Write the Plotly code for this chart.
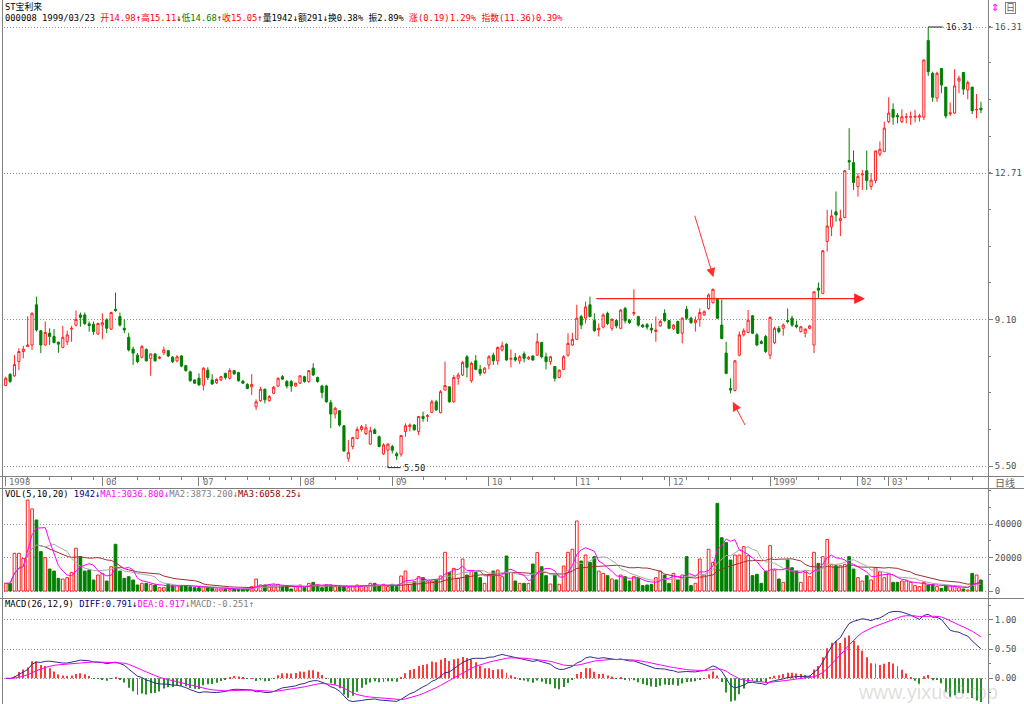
import plotly.graph_objects as go
import pandas as pd

# ---------------- data ----------------
opens = [7.48, 7.76, 7.72, 8.07, 8.32, 8.44, 8.48, 9.47, 8.83, 8.48,
         8.77, 8.69, 8.55, 8.42, 8.56, 8.87, 8.97, 9.22, 9.22, 9.00,
         8.99, 8.75, 8.97, 9.10, 8.87, 9.36, 9.18, 8.89, 8.67, 8.38,
         8.23, 8.18, 8.37, 8.15, 8.26, 8.15, 8.29, 8.34, 8.18, 8.09,
         8.21, 7.97, 7.82, 7.62, 7.66, 7.49, 7.86, 7.62, 7.55, 7.62,
         7.78, 7.66, 7.85, 7.80, 7.59, 7.51, 7.45, 6.96, 7.11, 7.39,
         7.11, 7.29, 7.47, 7.70, 7.58, 7.58, 7.47, 7.54, 7.70, 7.58,
         7.91, 7.68, 7.47, 7.47, 7.06, 6.78, 6.86, 6.49, 5.69, 5.98,
         6.18, 6.40, 6.30, 6.04, 6.39, 6.22, 5.80, 5.89, 5.98, 5.80,
         5.79, 6.35, 6.47, 6.51, 6.35, 6.72, 6.72, 6.82, 7.08, 6.81,
         7.37, 7.45, 7.08, 7.66, 7.74, 8.19, 7.60, 8.09, 7.88, 7.80,
         7.99, 8.23, 8.09, 8.36, 8.50, 8.13, 8.17, 8.09, 8.26, 8.14,
         8.21, 8.23, 8.54, 8.19, 8.07, 7.95, 7.68, 7.88, 8.23, 8.48,
         8.62, 9.18, 9.14, 9.47, 9.08, 8.85, 8.92, 9.26, 8.89, 9.08,
         8.89, 9.38, 9.09, 9.25, 9.18, 8.97, 8.98, 8.89, 8.81, 8.95,
         9.26, 9.08, 8.88, 9.06, 8.77, 9.36, 9.14, 9.03, 9.11, 9.22,
         9.38, 9.52, 9.60, 8.97, 8.28, 7.41, 7.36, 8.23, 8.73, 8.79,
         9.20, 8.73, 8.56, 8.69, 8.23, 8.54, 8.89, 8.89, 9.08, 9.14,
         8.97, 8.81, 8.77, 8.89, 8.48, 9.88, 9.75, 11.03, 11.39, 11.76,
         11.54, 11.62, 13.02, 12.97, 12.38, 12.67, 12.77, 12.38, 12.53, 13.18,
         13.24, 13.98, 14.28, 14.13, 13.98, 14.09, 14.09, 14.09, 14.09, 14.09,
         15.98, 15.17, 14.56, 15.29, 14.83, 14.17, 14.19, 14.98, 15.19, 14.76,
         14.83, 14.27, 14.31]
highs = [7.70, 7.78, 8.23, 8.40, 8.46, 9.19, 9.28, 9.67, 8.85, 9.06,
         8.89, 8.87, 8.56, 8.95, 8.83, 8.95, 9.33, 9.28, 9.28, 9.06,
         9.06, 9.03, 9.26, 9.14, 9.30, 9.77, 9.28, 9.11, 8.78, 8.44,
         8.28, 8.48, 8.40, 8.27, 8.28, 8.21, 8.44, 8.36, 8.21, 8.23,
         8.23, 7.99, 7.85, 7.63, 7.78, 7.93, 7.93, 7.76, 7.66, 7.72,
         7.80, 7.91, 7.86, 7.82, 7.62, 7.54, 7.76, 7.14, 7.45, 7.41,
         7.25, 7.47, 7.68, 7.74, 7.62, 7.62, 7.55, 7.74, 7.72, 7.86,
         8.03, 7.70, 7.50, 7.50, 7.13, 6.96, 6.88, 6.51, 6.14, 6.22,
         6.47, 6.51, 6.53, 6.47, 6.43, 6.25, 6.06, 6.06, 6.02, 5.85,
         6.26, 6.55, 6.55, 6.53, 6.73, 6.84, 6.78, 7.13, 7.13, 7.37,
         8.07, 7.46, 7.74, 7.80, 8.09, 8.23, 8.07, 8.23, 7.99, 7.93,
         8.23, 8.29, 8.44, 8.56, 8.52, 8.37, 8.28, 8.23, 8.32, 8.21,
         8.23, 8.77, 8.56, 8.29, 8.21, 7.96, 7.88, 8.23, 8.77, 8.78,
         9.47, 9.22, 9.55, 9.67, 9.26, 9.01, 9.26, 9.30, 9.14, 9.11,
         9.36, 9.42, 9.12, 9.85, 9.20, 9.00, 9.02, 9.01, 9.18, 9.10,
         9.36, 9.10, 9.00, 9.08, 9.16, 9.44, 9.18, 9.18, 9.38, 9.33,
         9.75, 9.87, 9.62, 9.60, 8.56, 7.66, 8.11, 8.81, 8.89, 9.34,
         9.22, 8.77, 8.60, 8.73, 9.18, 8.93, 8.95, 9.01, 9.38, 9.20,
         9.08, 8.95, 8.89, 8.97, 9.81, 10.02, 10.82, 11.81, 11.81, 12.26,
         11.81, 12.79, 13.82, 13.27, 12.71, 12.79, 13.27, 12.71, 13.26, 13.49,
         13.98, 14.58, 14.43, 14.19, 14.28, 14.19, 14.23, 14.27, 14.17, 15.50,
         16.31, 15.21, 15.21, 15.29, 14.83, 14.45, 15.27, 15.11, 15.19, 14.99,
         14.83, 14.66, 14.47]
lows = [7.47, 7.55, 7.70, 7.86, 8.15, 8.44, 8.36, 8.81, 8.28, 8.46,
        8.48, 8.52, 8.29, 8.40, 8.48, 8.56, 8.93, 8.93, 8.97, 8.81,
        8.73, 8.73, 8.62, 8.77, 8.85, 9.30, 8.93, 8.77, 8.32, 7.99,
        8.03, 8.15, 8.07, 7.72, 8.07, 8.13, 8.23, 8.18, 8.03, 8.05,
        7.93, 7.82, 7.58, 7.52, 7.47, 7.36, 7.62, 7.50, 7.52, 7.59,
        7.63, 7.63, 7.74, 7.58, 7.52, 7.39, 7.25, 6.88, 7.08, 7.04,
        7.08, 7.27, 7.44, 7.62, 7.41, 7.33, 7.45, 7.52, 7.55, 7.55,
        7.72, 7.55, 7.17, 7.06, 6.43, 6.67, 6.47, 5.85, 5.61, 5.91,
        6.16, 6.35, 6.26, 6.02, 6.29, 5.96, 5.77, 5.50, 5.81, 5.65,
        5.73, 6.22, 6.35, 6.37, 6.26, 6.59, 6.59, 6.80, 6.86, 6.80,
        7.37, 7.06, 7.06, 7.50, 7.72, 7.68, 7.55, 7.86, 7.72, 7.77,
        7.88, 7.99, 7.99, 8.32, 8.09, 7.93, 8.07, 8.01, 8.05, 8.11,
        8.09, 8.21, 8.15, 7.88, 7.99, 7.58, 7.66, 7.86, 8.19, 8.46,
        8.60, 8.87, 9.01, 9.16, 8.81, 8.69, 8.89, 8.97, 8.83, 8.89,
        8.87, 9.01, 9.00, 9.20, 8.93, 8.90, 8.86, 8.77, 8.56, 8.93,
        9.05, 8.87, 8.85, 8.75, 8.52, 9.10, 9.00, 8.81, 8.93, 9.20,
        9.35, 9.50, 9.12, 8.62, 7.76, 7.29, 7.34, 8.20, 8.69, 8.77,
        8.75, 8.45, 8.50, 8.28, 8.13, 8.50, 8.77, 8.71, 9.01, 8.93,
        8.89, 8.79, 8.67, 8.87, 8.28, 9.63, 9.73, 10.78, 11.16, 11.52,
        11.16, 11.60, 12.79, 12.30, 12.13, 12.30, 12.30, 12.30, 12.46, 13.12,
        13.24, 13.94, 13.90, 13.94, 13.94, 13.94, 13.90, 13.96, 13.98, 14.02,
        15.11, 14.47, 14.47, 14.68, 14.06, 14.12, 14.17, 14.68, 14.64, 14.53,
        14.17, 14.06, 14.19]
closes = [7.66, 7.58, 8.00, 8.32, 8.38, 8.48, 9.26, 8.85, 8.48, 8.79,
          8.69, 8.54, 8.50, 8.67, 8.73, 8.89, 9.11, 9.16, 9.01, 8.96,
          8.81, 9.01, 9.03, 8.89, 9.28, 9.33, 8.97, 8.85, 8.36, 8.28,
          8.07, 8.44, 8.09, 8.26, 8.09, 8.18, 8.36, 8.21, 8.07, 8.19,
          7.96, 7.85, 7.60, 7.54, 7.50, 7.91, 7.68, 7.52, 7.63, 7.70,
          7.68, 7.85, 7.77, 7.60, 7.54, 7.41, 7.51, 7.08, 7.39, 7.13,
          7.21, 7.44, 7.66, 7.64, 7.47, 7.47, 7.54, 7.72, 7.58, 7.85,
          7.74, 7.58, 7.31, 7.08, 6.78, 6.92, 6.51, 5.87, 5.83, 6.20,
          6.40, 6.47, 6.44, 6.37, 6.30, 5.98, 6.02, 6.04, 5.89, 5.75,
          6.25, 6.49, 6.51, 6.39, 6.72, 6.67, 6.74, 7.08, 6.88, 7.33,
          7.48, 7.08, 7.68, 7.74, 8.05, 7.93, 8.03, 7.88, 7.78, 7.91,
          8.19, 8.09, 8.42, 8.46, 8.11, 8.15, 8.11, 8.19, 8.15, 8.17,
          8.11, 8.56, 8.19, 8.07, 8.19, 7.66, 7.86, 8.19, 8.52, 8.62,
          9.14, 8.97, 9.42, 9.18, 8.83, 8.89, 9.22, 9.01, 9.11, 8.95,
          9.34, 9.08, 9.03, 9.28, 8.97, 8.93, 8.92, 8.85, 8.85, 9.06,
          9.08, 8.89, 8.97, 8.77, 9.14, 9.14, 9.03, 9.09, 9.28, 9.30,
          9.71, 9.85, 9.14, 8.64, 7.78, 7.37, 8.09, 8.73, 8.83, 9.09,
          8.77, 8.48, 8.52, 8.32, 9.16, 8.89, 8.81, 8.97, 9.06, 8.97,
          8.93, 8.93, 8.87, 8.95, 9.79, 9.83, 10.80, 11.41, 11.66, 11.68,
          11.60, 12.77, 12.99, 12.48, 12.63, 12.69, 12.53, 12.54, 13.26, 13.30,
          13.82, 14.19, 14.09, 14.10, 14.10, 14.10, 14.10, 14.11, 14.12, 15.50,
          15.21, 14.58, 15.17, 14.88, 14.12, 14.20, 14.86, 15.05, 14.78, 14.94,
          14.25, 14.28, 14.27]
volumes = [4580, 4580, 22500, 22500, 19500, 54300, 49000, 42400, 23500, 19900,
           13100, 11900, 7560, 7160, 7960, 11100, 25500, 20500, 11900, 12500,
           6570, 9550, 10500, 5970, 14500, 27900, 11900, 7560, 8560, 6570,
           3580, 4580, 4580, 3980, 3580, 1990, 1990, 3980, 3180, 3180,
           3180, 3180, 2590, 1990, 1990, 2590, 1990, 1590, 1190, 1190,
           1190, 1000, 1190, 1000, 1000, 1000, 2590, 7160, 3580, 3580,
           3580, 3580, 3980, 2590, 2590, 1190, 2590, 3580, 1990, 4580,
           5170, 3580, 1990, 3580, 3580, 2590, 2590, 2590, 1990, 2590,
           3580, 3180, 2590, 4580, 4580, 3180, 3980, 2590, 3980, 2590,
           8960, 11900, 3980, 5570, 8560, 7960, 5970, 5970, 6570, 8960,
           23100, 11100, 13500, 7560, 19100, 9550, 11900, 11100, 7960, 4580,
           9550, 11900, 12500, 8560, 20900, 11100, 5970, 4580, 4580, 4580,
           16100, 22900, 14500, 9150, 4180, 9550, 3980, 14900, 23100, 24900,
           41800, 17900, 21500, 17100, 20500, 11900, 10500, 9150, 7160, 6570,
           9550, 8560, 5970, 8560, 7560, 3180, 3580, 3980, 7960, 11900,
           9550, 4580, 10500, 6570, 9550, 20500, 3180, 4580, 19100, 9550,
           24900, 17100, 52300, 31800, 28900, 18500, 21500, 21500, 26500, 21100,
           9150, 9950, 4580, 11900, 27100, 12500, 7160, 5170, 18500, 13900,
           11900, 5170, 11100, 8560, 23100, 16500, 20500, 30800, 15900, 15100,
           15100, 15900, 20500, 13100, 7960, 5970, 9150, 6570, 13900, 11500,
           7960, 10500, 5170, 5170, 5970, 5970, 5170, 3180, 2590, 5170,
           3580, 3980, 2590, 1590, 3180, 3180, 3180, 1942, 1190, 600,
           10500, 9550, 6570]

month_idx = [0, 22, 44, 67, 88, 110, 130, 151, 174, 194, 201]
month_lbl = ["1998", "06", "07", "08", "09", "10", "11", "12", "1999", "02", "03"]
price_ticks = [5.50, 9.10, 12.71, 16.31]
vol_ticks = [0, 20000, 40000]
macd_ticks = [0.0, 0.5, 1.0]

# hand-drawn red marks (candle index, price)
resist_line = [134.1, 195.6, 9.62]            # x start, x end (arrow head), price
arrow_down = [156.75, 11.70, 161.1, 10.15]    # tail x, tail y, head x, head y
arrow_up = [168.5, 6.47, 165.5, 7.08]

# ---------------- layout constants ----------------
W, H = 1024, 704
X_FIRST, STEP = 5.7, 4.393          # pixel of first candle, spacing
PLOT_L, PLOT_R = 4, 988
MONO = "DejaVu Sans Mono, Noto Sans CJK SC, monospace"


def px(x):
    return x / W


def py(y):
    return 1 - y / H


n = len(closes)
idx = list(range(n))
xr = [(PLOT_L - X_FIRST) / STEP, (PLOT_R - X_FIRST) / STEP]

c = pd.Series(closes)
diff = c.ewm(span=12, adjust=False).mean() - c.ewm(span=26, adjust=False).mean()
dea = diff.ewm(span=9, adjust=False).mean()
hist = 2 * (diff - dea)

v = pd.Series(volumes, dtype=float)
ma5 = v.rolling(5, min_periods=1).mean()
ma10 = v.rolling(10, min_periods=1).mean()
ma20 = v.rolling(20, min_periods=1).mean()

up = [cl >= op for op, cl in zip(opens, closes)]
RED, GREEN = "#ff2020", "#008000"

fig = go.Figure()
fig.add_trace(go.Candlestick(
    x=idx, open=opens, high=highs, low=lows, close=closes,
    increasing=dict(line=dict(color=RED, width=1), fillcolor="#ffffff"),
    decreasing=dict(line=dict(color=GREEN, width=1), fillcolor=GREEN),
    whiskerwidth=0, xaxis="x", yaxis="y", showlegend=False, hoverinfo="skip"))

fig.add_trace(go.Bar(
    x=idx, y=volumes, width=0.62, xaxis="x2", yaxis="y2",
    marker=dict(color=["#ffffff" if u else GREEN for u in up],
                line=dict(color=[RED if u else GREEN for u in up], width=1)),
    showlegend=False, hoverinfo="skip"))
for s, col in [(ma20, "#a03030"), (ma10, "#a8a8a8"), (ma5, "#ff00ff")]:
    fig.add_trace(go.Scatter(x=idx, y=s, mode="lines", line=dict(color=col, width=1),
                             xaxis="x2", yaxis="y2", showlegend=False, hoverinfo="skip"))

fig.add_trace(go.Bar(
    x=idx, y=hist, width=0.22, xaxis="x3", yaxis="y3",
    marker=dict(color=["#ff3838" if h >= 0 else "#259025" for h in hist], line=dict(width=0)),
    showlegend=False, hoverinfo="skip"))
fig.add_trace(go.Scatter(x=idx, y=diff, mode="lines", line=dict(color="#2c2c90", width=1),
                         xaxis="x3", yaxis="y3", showlegend=False, hoverinfo="skip"))
fig.add_trace(go.Scatter(x=idx, y=dea, mode="lines", line=dict(color="#ff00ff", width=1),
                         xaxis="x3", yaxis="y3", showlegend=False, hoverinfo="skip"))

dom_x = [px(PLOT_L), px(PLOT_R)]
yfont = dict(family=MONO, size=9, color="#505050")
common_y = dict(side="right", ticks="outside", ticklen=4, tickcolor="#808080",
                showgrid=True, gridcolor="#909090", griddash="1px,2px", gridwidth=1,
                zeroline=False, showline=False, tickfont=yfont, fixedrange=True)

fig.update_layout(
    width=W, height=H, margin=dict(l=0, r=0, t=0, b=0),
    paper_bgcolor="white", plot_bgcolor="white", showlegend=False,
    xaxis=dict(domain=dom_x, range=xr, anchor="y", tickmode="array", tickvals=month_idx,
               ticks="outside", ticklen=9, tickcolor="#808080", showticklabels=False,
               showgrid=False, zeroline=False, showline=False,
               rangeslider=dict(visible=False),
               minor=dict(ticks="outside", ticklen=3, tick0=0, dtick=5, tickcolor="#808080")),
    xaxis2=dict(domain=dom_x, range=xr, anchor="y2", matches="x", showticklabels=False,
                ticks="", showgrid=False, zeroline=False, showline=False),
    xaxis3=dict(domain=dom_x, range=xr, anchor="y3", matches="x", showticklabels=False,
                ticks="", showgrid=False, zeroline=False, showline=False),
    yaxis=dict(common_y, domain=[py(476), 1], range=[5.254, 16.975], anchor="x",
               tickmode="array", tickvals=price_ticks,
               ticktext=["%.2f" % t for t in price_ticks],
               minor=dict(ticks="outside", ticklen=2, tickcolor="#808080",
                          tickvals=[5.5 + k * 0.9025 for k in range(13)])),
    yaxis2=dict(common_y, domain=[py(598), py(488)], range=[-4179, 61490], anchor="x2",
                tickmode="array", tickvals=vol_ticks, ticktext=[str(t) for t in vol_ticks],
                minor=dict(ticks="outside", ticklen=2, tickcolor="#808080", dtick=10000)),
    yaxis3=dict(common_y, domain=[0, py(598)], range=[-0.441, 1.377], anchor="x3",
                tickmode="array", tickvals=macd_ticks,
                ticktext=["%.2f" % t for t in macd_ticks],
                minor=dict(ticks="outside", ticklen=2, tickcolor="#808080", dtick=0.25)),
)

# panel borders
bl = dict(color="#808080", width=1)
shapes = [
    dict(type="line", xref="paper", yref="paper", x0=0, x1=1, y0=py(476.5), y1=py(476.5), line=bl),
    dict(type="line", xref="paper", yref="paper", x0=0, x1=1, y0=py(488.5), y1=py(488.5), line=bl),
    dict(type="line", xref="paper", yref="paper", x0=0, x1=1, y0=py(598.5), y1=py(598.5), line=bl),
    dict(type="line", xref="paper", yref="paper", x0=px(988.5), x1=px(988.5), y0=0, y1=1, line=bl),
    dict(type="line", xref="paper", yref="paper", x0=px(2.5), x1=px(2.5), y0=0, y1=1, line=bl),
]
# max / min markers
imax = max(range(n), key=lambda i: highs[i])
imin = min(range(n), key=lambda i: lows[i])
shapes.append(dict(type="line", xref="x", yref="y", x0=imax, x1=imax + 3.3,
                   y0=highs[imax], y1=highs[imax], line=dict(color="#202020", width=1)))
shapes.append(dict(type="line", xref="x", yref="y", x0=imin, x1=imin + 2.9,
                   y0=lows[imin] - 0.04, y1=lows[imin] - 0.04, line=dict(color="#202020", width=1)))
shapes.append(dict(type="line", xref="x", yref="y", x0=imin, x1=imin,
                   y0=lows[imin], y1=lows[imin] - 0.04, line=dict(color="#202020", width=1)))
fig.update_layout(shapes=shapes)

ann = []


def sp(t, col):
    return '<span style="color:%s">%s</span>' % (col, t)


hdr2 = (sp("000008 1999/03/23 ", "#000000") + sp("开14.98", "#ff0000") + sp("↑", "#c00000")
        + sp("高15.11", "#ff0000") + sp("↓", "#000000") + sp("低14.68", "#008000")
        + sp("↑", "#c00000") + sp("收15.05", "#ff0000") + sp("↑", "#c00000")
        + sp("量1942", "#000000") + sp("↓", "#000000") + sp("额291", "#000000")
        + sp("↓", "#000000") + sp("换0.38% 振2.89% ", "#000000")
        + sp("涨(0.19)1.29% 指数(11.36)0.39%", "#ff0000"))
vol_t = (sp("VOL(5,10,20) ", "#000000") + sp("%d↓" % volumes[217], "#000080")
         + sp("MA1:3036.800↓", "#ff00ff") + sp("MA2:3873.200↓", "#808080")
         + sp("MA3:6058.25↓", "#8b0000"))
macd_t = (sp("MACD(26,12,9) ", "#000000") + sp("DIFF:0.791↓", "#000080")
          + sp("DEA:0.917↓", "#ff00ff") + sp("MACD:-0.251↑", "#808080"))

for txt, yy in [("ST宝利来", 6), (hdr2, 18), (vol_t, 494), (macd_t, 604)]:
    ann.append(dict(text=txt, xref="paper", yref="paper", x=px(3), y=py(yy),
                    xanchor="left", yanchor="middle", showarrow=False,
                    font=dict(family=MONO, size=8.8, color="#000000")))

for m, lab in zip(month_idx, month_lbl):
    ann.append(dict(text=lab, xref="x", yref="paper", x=m + 0.35, y=py(482),
                    xanchor="left", yanchor="middle", showarrow=False,
                    font=dict(family=MONO, size=8.8, color="#707070")))

ann.append(dict(text="日线", xref="paper", yref="paper", x=px(1005), y=py(482.5),
                xanchor="center", yanchor="middle", showarrow=False,
                font=dict(family=MONO, size=10, color="#606060")))
ann.append(dict(text="⇕", xref="paper", yref="paper", x=px(995), y=py(8),
                xanchor="center", yanchor="middle", showarrow=False,
                font=dict(family="DejaVu Sans", size=10, color="#ff00ff")))
ann.append(dict(text="日", xref="paper", yref="paper", x=px(1010), y=py(8),
                xanchor="center", yanchor="middle", showarrow=False, bordercolor="#808080",
                borderwidth=1, borderpad=0,
                font=dict(family=MONO, size=9, color="#606060")))
ann.append(dict(text="%.2f" % highs[imax], xref="x", yref="y", x=imax + 3.5, y=highs[imax],
                xanchor="left", yanchor="middle", showarrow=False,
                font=dict(family=MONO, size=8.8, color="#202020")))
ann.append(dict(text="%.2f" % lows[imin], xref="x", yref="y", x=imin + 3.1, y=lows[imin] - 0.05,
                xanchor="left", yanchor="middle", showarrow=False,
                font=dict(family=MONO, size=8.8, color="#202020")))

# red hand-drawn arrows
ann.append(dict(text="", xref="x", yref="y", axref="x", ayref="y",
                x=resist_line[1], y=resist_line[2], ax=resist_line[0], ay=resist_line[2],
                showarrow=True, arrowhead=2, arrowsize=1.8, arrowwidth=1.2,
                arrowcolor="#ff2020", standoff=0, startstandoff=0))
ann.append(dict(text="", xref="x", yref="y", axref="x", ayref="y",
                x=arrow_down[2], y=arrow_down[3], ax=arrow_down[0], ay=arrow_down[1],
                showarrow=True, arrowhead=2, arrowsize=1.8, arrowwidth=1,
                arrowcolor="#ff3030", standoff=0))
ann.append(dict(text="", xref="x", yref="y", axref="x", ayref="y",
                x=arrow_up[2], y=arrow_up[3], ax=arrow_up[0], ay=arrow_up[1],
                showarrow=True, arrowhead=2, arrowsize=1.8, arrowwidth=1,
                arrowcolor="#ff3030", standoff=0))

ann.append(dict(text="www.yixue8.top", xref="paper", yref="paper", x=px(856), y=py(692),
                xanchor="left", yanchor="middle", showarrow=False,
                font=dict(family="Liberation Sans", size=20, color="rgba(160,160,160,0.35)")))

fig.update_layout(annotations=ann)
fig.write_html("out.html")
